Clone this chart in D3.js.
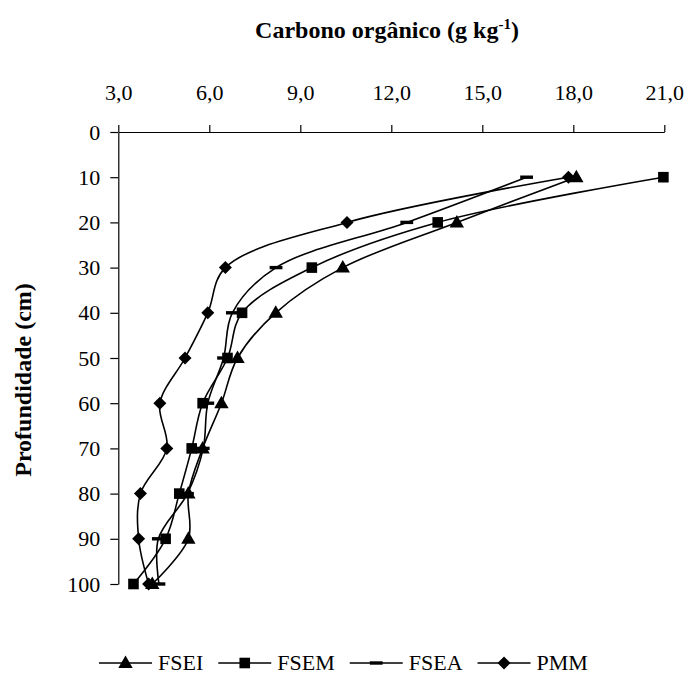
<!DOCTYPE html>
<html>
<head>
<meta charset="utf-8">
<script src="https://cdn.jsdelivr.net/npm/d3@7"></script>
<style>
  body { margin: 0; background: #fff; }
  text { font-family: "Liberation Serif", "Times New Roman", serif; fill: #000; }
</style>
</head>
<body>
<div id="chart"></div>
<script>
// depth (cm) and organic carbon (g/kg) per treatment
const depths = [10, 20, 30, 40, 50, 60, 70, 80, 90, 100];
const fsei = [18.1, 14.16, 10.4, 8.19, 6.93, 6.4, 5.78, 5.31, 5.31, 4.12];
const fsem = [20.97, 13.53, 9.38, 7.08, 6.6, 5.78, 5.42, 5.01, 4.56, 3.5];
const fsea = [16.46, 12.51, 8.2, 6.76, 6.47, 5.95, 5.8, 5.28, 4.32, 4.34];
const pmm = [17.84, 10.54, 6.53, 5.95, 5.2, 4.37, 4.6, 3.73, 3.67, 4.0];
const seriesNames = ["FSEI", "FSEM", "FSEA", "PMM"];
const xTicks = [3, 6, 9, 12, 15, 18, 21];
const yTicks = [0, 10, 20, 30, 40, 50, 60, 70, 80, 90, 100];

const W = 688, H = 675;
const svg = d3.select("#chart").append("svg")
    .attr("width", W).attr("height", H);
svg.append("rect").attr("width", W).attr("height", H).attr("fill", "#fff");

const x = d3.scaleLinear().domain([3, 21]).range([118.3, 664.3]);
const y = d3.scaleLinear().domain([0, 100]).range([132, 584]);

const fmt = d => d.toFixed(1).replace(".", ",");

// axes
const gx = svg.append("g").attr("transform", "translate(0,132)")
    .call(d3.axisTop(x).tickValues(xTicks).tickFormat(fmt)
        .tickSize(7).tickSizeOuter(0).tickPadding(25));
const gy = svg.append("g").attr("transform", "translate(118.3,0)")
    .call(d3.axisLeft(y).tickValues(yTicks)
        .tickSize(8).tickSizeOuter(0).tickPadding(10));
[gx, gy].forEach(g => {
    g.selectAll("path, line").attr("stroke", "#000").attr("stroke-width", 1.2);
    g.selectAll("text").style("font-family", "Liberation Serif")
        .style("font-size", "22px").attr("fill", "#000");
});

// titles
const title = svg.append("text")
    .attr("x", 387).attr("y", 38)
    .attr("text-anchor", "middle")
    .style("font-size", "24px").style("font-weight", "bold");
title.append("tspan").text("Carbono orgânico (g kg");
title.append("tspan").attr("dy", -9).style("font-size", "15px").text("-1");
title.append("tspan").attr("dy", 9).text(")");

svg.append("text")
    .attr("transform", "translate(31,380) rotate(-90)")
    .attr("text-anchor", "middle")
    .style("font-size", "24px").style("font-weight", "bold")
    .text("Profundidade (cm)");

// markers
const markers = {
    FSEI: "M0,-7.5L7.2,5L-7.2,5Z",
    FSEM: "M-5.3,-5.3H5.3V5.3H-5.3Z",
    FSEA: "M-6.4,-1.7H6.4V1.7H-6.4Z",
    PMM: "M0,-6.5L6.5,0L0,6.5L-6.5,0Z"
};

const data = [fsei, fsem, fsea, pmm].map((vals, i) => ({
    name: seriesNames[i],
    values: vals.map((v, j) => ({ v: v, depth: depths[j] }))
}));

const line = d3.line()
    .x(d => x(d.v))
    .y(d => y(d.depth))
    .curve(d3.curveCatmullRom.alpha(0.5));

const series = svg.append("g").selectAll("g")
    .data(data)
    .join("g");

series.append("path")
    .attr("d", d => line(d.values))
    .attr("fill", "none")
    .attr("stroke", "#000")
    .attr("stroke-width", 1.6);

series.each(function (s) {
    d3.select(this).selectAll("path.mk")
        .data(s.values)
        .join("path")
        .attr("class", "mk")
        .attr("d", markers[s.name])
        .attr("transform", d => `translate(${x(d.v)},${y(d.depth)})`)
        .attr("fill", "#000");
});

// legend
const legend = svg.append("g");
let lx = 99;
const ly = 663;
seriesNames.forEach(name => {
    legend.append("line")
        .attr("x1", lx).attr("x2", lx + 53)
        .attr("y1", ly).attr("y2", ly)
        .attr("stroke", "#000").attr("stroke-width", 1.6);
    legend.append("path")
        .attr("d", markers[name])
        .attr("transform", `translate(${lx + 26.5},${ly})`)
        .attr("fill", "#000");
    const t = legend.append("text")
        .attr("x", lx + 59).attr("y", 670)
        .style("font-size", "22px")
        .text(name);
    lx = lx + 59 + t.node().getComputedTextLength() + 15;
});
</script>
</body>
</html>
